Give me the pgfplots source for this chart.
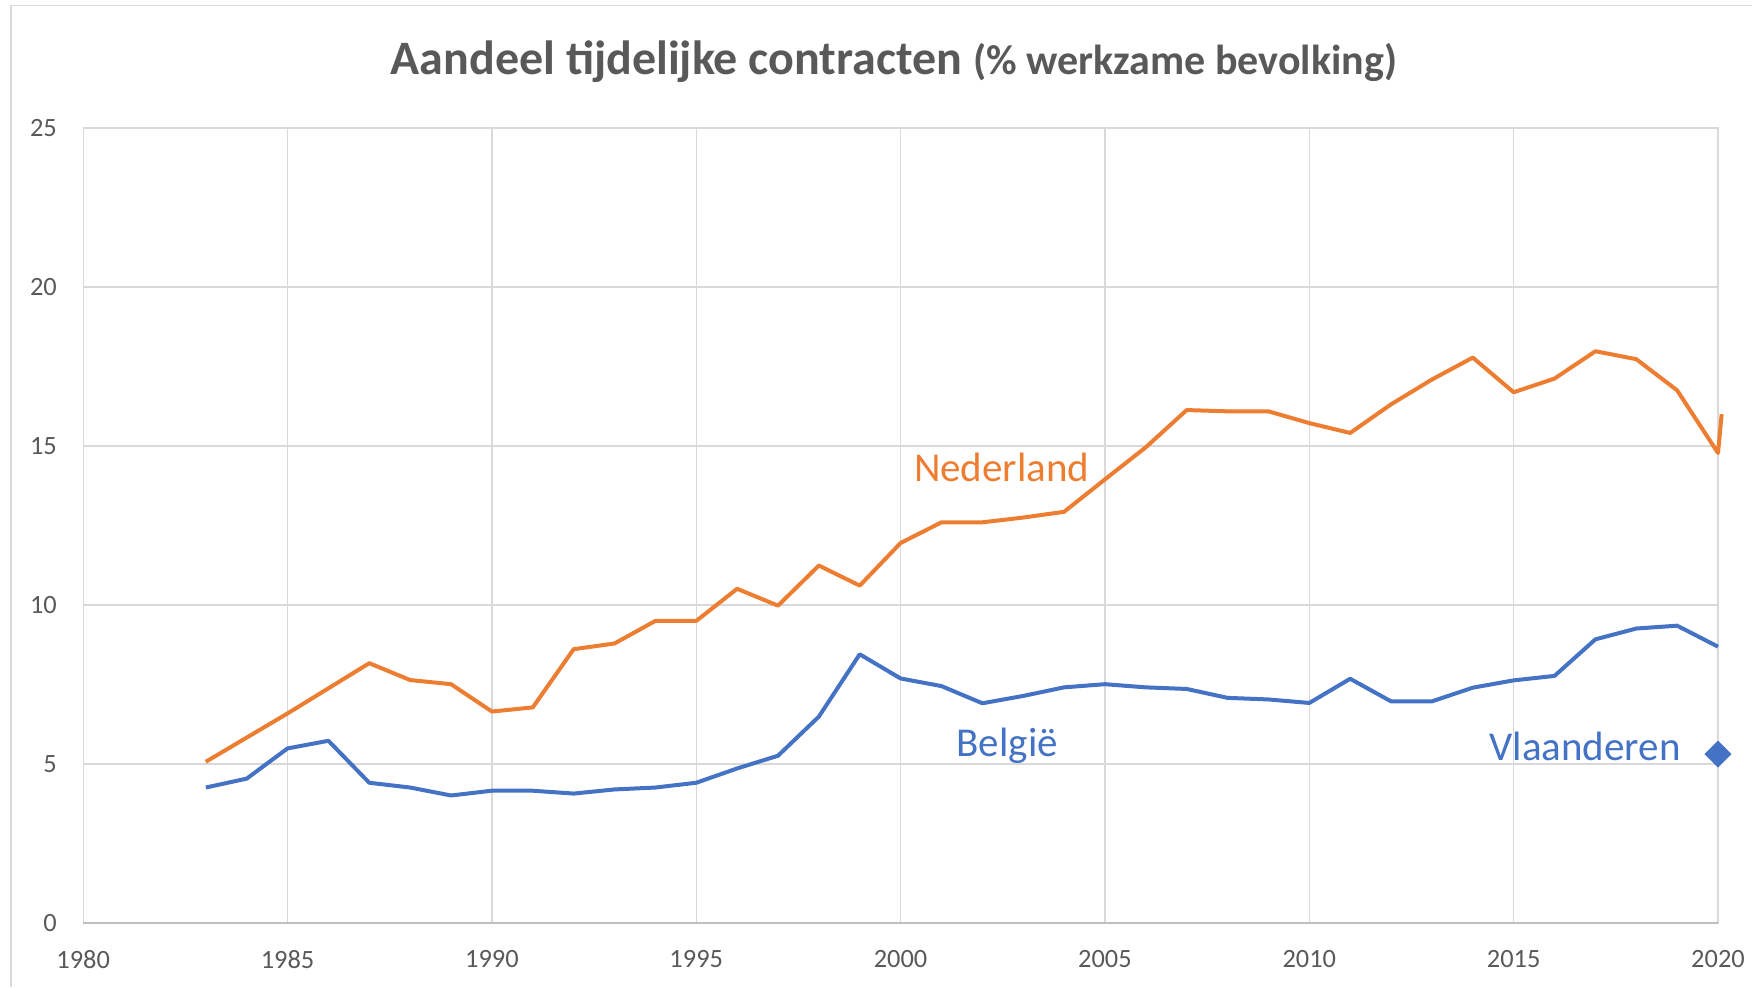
\documentclass[border=0pt]{standalone}
\usepackage{fontspec}
\setmainfont{Carlito}
\usepackage{pgfplots}
\pgfplotsset{compat=1.18}
\definecolor{nlorange}{HTML}{ED7D31}
\definecolor{beblue}{HTML}{4472C4}
\definecolor{txtgray}{HTML}{595959}
\definecolor{gridgray}{HTML}{D9D9D9}
\definecolor{axisgray}{HTML}{BFBFBF}

\begin{document}
\begin{tikzpicture}
\path[use as bounding box] (0,0) rectangle (876pt,493.5pt);
% chart frame (only top and left visible)
\draw[gridgray, line width=0.8pt] (5.6pt,0) -- (5.6pt,490.7pt) -- (876pt,490.7pt);
\begin{axis}[
  at={(41.6pt,32pt)}, anchor=south west,
  scale only axis, width=817.4pt, height=397.5pt,
  xmin=1980, xmax=2020, ymin=0, ymax=25,
  xtick={1980,1985,...,2020}, ytick={0,5,...,25},
  grid=major, grid style={gridgray, line width=0.7pt},
  axis line style={gridgray, line width=0.7pt},
  major tick length=0pt,
  tick label style={font=\fontsize{13.2}{15}\selectfont, text=txtgray, inner sep=0pt},
  xticklabel style={anchor=north, yshift=-13.3pt},
  yticklabel style={anchor=east, xshift=-13pt},
  /pgf/number format/assume math mode=true,
  /pgf/number format/1000 sep={},
  clip=false,
]
\draw[axisgray, line width=0.8pt] (rel axis cs:0,0) -- (rel axis cs:1,0);

% Nederland
\addplot[nlorange, line width=2pt, line join=round, mark=none] coordinates {
  (1983,5.07) (1984,5.83) (1985,6.59) (1986,7.38) (1987,8.17) (1988,7.64)
  (1989,7.51) (1990,6.65) (1991,6.78) (1992,8.61) (1993,8.79) (1994,9.50)
  (1995,9.50) (1996,10.51) (1997,9.98) (1998,11.24) (1999,10.61) (2000,11.95)
  (2001,12.60) (2002,12.60) (2003,12.75) (2004,12.93) (2005,13.95) (2006,14.96)
  (2007,16.13) (2008,16.09) (2009,16.09) (2010,15.72) (2011,15.41) (2012,16.31)
  (2013,17.09) (2014,17.78) (2015,16.69) (2016,17.12) (2017,17.98) (2018,17.73)
  (2019,16.75) (2020,14.78) (2020.09,16.0)
};

% Belgie
\addplot[beblue, line width=2pt, line join=round, mark=none] coordinates {
  (1983,4.26) (1984,4.54) (1985,5.49) (1986,5.73) (1987,4.41) (1988,4.26)
  (1989,4.01) (1990,4.16) (1991,4.16) (1992,4.07) (1993,4.20) (1994,4.26)
  (1995,4.41) (1996,4.86) (1997,5.26) (1998,6.49) (1999,8.45) (2000,7.69)
  (2001,7.45) (2002,6.91) (2003,7.14) (2004,7.41) (2005,7.51) (2006,7.41)
  (2007,7.36) (2008,7.08) (2009,7.03) (2010,6.92) (2011,7.68) (2012,6.97)
  (2013,6.97) (2014,7.40) (2015,7.63) (2016,7.77) (2017,8.92) (2018,9.26)
  (2019,9.35) (2020,8.69)
};

% Vlaanderen
\addplot[only marks, mark=square*, mark size=4.6pt,
  mark options={fill=beblue, draw=beblue, rotate=45}] coordinates {(2020,5.31)};

\node[anchor=base west, inner sep=0pt, text=nlorange, font=\fontsize{20.5}{24}\selectfont]
  at (axis cs:2000.32,13.88) {Nederland};
\node[anchor=base west, inner sep=0pt, text=beblue, font=\fontsize{20.5}{24}\selectfont]
  at (axis cs:2001.36,5.23) {België};
\node[anchor=base west, inner sep=0pt, text=beblue, font=\fontsize{20.5}{24}\selectfont]
  at (axis cs:2014.40,5.10) {Vlaanderen};
\end{axis}
\node[anchor=base, inner sep=0pt, text=txtgray] at (447pt,456pt)
  {\fontsize{24}{28}\selectfont\bfseries Aandeel tijdelijke contracten
   \fontsize{21}{25}\selectfont(\% werkzame bevolking)};
\end{tikzpicture}
\end{document}
